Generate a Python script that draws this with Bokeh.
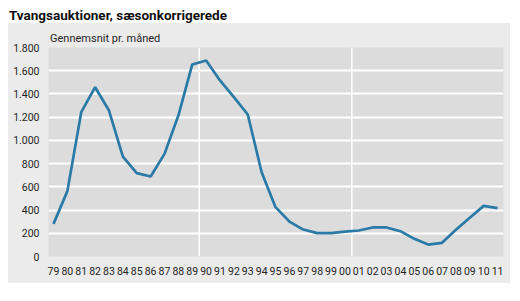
from bokeh.plotting import figure
from bokeh.models import Span, FixedTicker, Title
from bokeh.embed import file_html
from bokeh.resources import INLINE

# ---- data ----
years = ["79", "80", "81", "82", "83", "84", "85", "86", "87", "88", "89",
         "90", "91", "92", "93", "94", "95", "96", "97", "98", "99", "00",
         "01", "02", "03", "04", "05", "06", "07", "08", "09", "10", "11"]
values = [281, 563, 1243, 1458, 1257, 861, 718, 689, 884, 1214, 1654,
          1688, 1516, 1372, 1223, 726, 425, 301, 232, 201, 201, 215,
          224, 250, 250, 218, 152, 103, 118, 230, 333, 436, 416]
y_ticks = [0, 200, 400, 600, 800, 1000, 1200, 1400, 1600, 1800]
y_tick_labels = ["0", "200", "400", "600", "800", "1.000", "1.200", "1.400", "1.600", "1.800"]
title_text = "Tvangsauktioner, sæsonkorrigerede"
subtitle_text = "Gennemsnit pr. måned"

FONT = "Roboto"
LINE = "#2a7aa8"
PANEL = "#ebebeb"
FRAME = "#dcdcdc"
TEXT = "#262626"

xs = list(range(len(years)))

p = figure(width=520, height=301, output_backend="svg", toolbar_location=None, title=None,
           x_range=(-0.36, len(years) - 1 + 0.43), y_range=(0, 1800),
           min_border_left=48, min_border_right=17, min_border_top=47, min_border_bottom=45)
p.background_fill_color = FRAME
p.border_fill_color = None
p.outline_line_color = None
# light grey panel behind the chart, white page around it
p.styles = {"background": f"linear-gradient({PANEL}, {PANEL}) 8px 23px / 502px 260px no-repeat, #ffffff"}

# titles (first added sits nearest the frame)
p.add_layout(Title(text=subtitle_text, align="left", offset=1.5, standoff=6,
                   text_font=FONT, text_font_size="11px", text_font_style="normal",
                   text_color=TEXT), "above")
p.add_layout(Title(text=title_text, align="left", offset=-39.5, standoff=7,
                   text_font=FONT, text_font_size="13.5px", text_font_style="bold",
                   text_color="#111111"), "above")

# grids
p.xgrid.visible = False
p.ygrid.ticker = FixedTicker(ticks=y_ticks)
p.ygrid.grid_line_color = "white"
p.ygrid.grid_line_width = 2
for loc in (10.5, 21.5):
    p.add_layout(Span(location=loc, dimension="height", line_color="white",
                      line_width=1.5, level="underlay"))

p.line(xs, values, line_color=LINE, line_width=2.7)

# axes
p.yaxis.ticker = FixedTicker(ticks=y_ticks)
p.yaxis.major_label_overrides = {t_: l for t_, l in zip(y_ticks, y_tick_labels)}
p.xaxis.ticker = FixedTicker(ticks=xs)
p.xaxis.major_label_overrides = {i: y for i, y in zip(xs, years)}
for ax in (p.xaxis[0], p.yaxis[0]):
    ax.axis_line_color = None
    ax.major_tick_line_color = None
    ax.minor_tick_line_color = None
    ax.major_tick_out = 0
    ax.major_tick_in = 0
    ax.minor_tick_out = 0
    ax.minor_tick_in = 0
    ax.axis_label_standoff = 0
    ax.major_label_text_font = FONT
    ax.major_label_text_font_size = "10.5px"
    ax.major_label_text_color = TEXT
p.yaxis.major_label_standoff = 9
p.xaxis.major_label_standoff = 10

open("out.html", "w").write(file_html(p, INLINE))
